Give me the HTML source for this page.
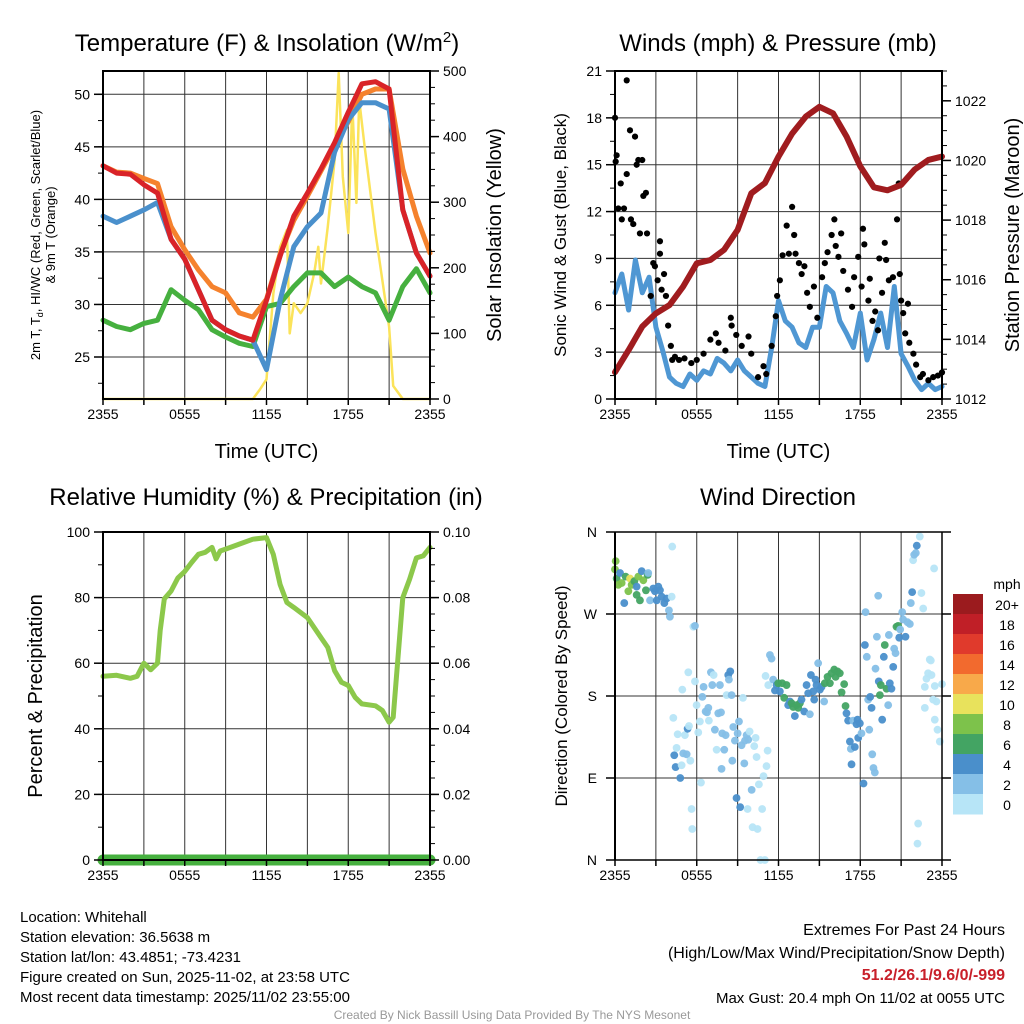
<!DOCTYPE html>
<html><head><meta charset="utf-8"><style>
body{margin:0;background:#fff}
svg{display:block;font-family:"Liberation Sans",Arial,sans-serif}
</style></head><body>
<svg id="c" width="1024" height="1024" viewBox="0 0 1024 1024" xmlns="http://www.w3.org/2000/svg"></svg>
<script>
// ---------- Data ----------
const xTickLabels = ['2355','0555','1155','1755','2355'];
const xTickHours = [0,6,12,18,24];
const hours = [0,1,2,3,4,5,6,7,8,9,10,11,12,13,14,15,16,17,18,19,20,21,22,23,24];
const tempRed = [43.2,42.5,42.4,41.4,40.6,36.2,34.3,31.4,28.5,27.6,27.0,26.6,30.4,34.6,38.4,40.6,42.9,45.4,48.3,51.0,51.2,50.5,39.0,34.9,32.7];
const temp9m = [43.2,42.6,42.5,42.0,41.5,37.4,35.2,33.3,31.7,31.1,29.2,28.8,30.5,34.8,38.0,40.3,42.7,45.1,47.4,50.0,50.5,50.5,42.9,38.4,34.9];
const tempHI = [38.4,37.8,38.4,39.0,39.7,36.2,34.3,31.4,28.5,27.6,27.0,26.6,23.8,30.4,35.5,37.4,38.7,44.5,47.6,49.2,49.2,48.6,39.0,34.9,32.7];
const dewpt = [28.5,27.9,27.6,28.2,28.5,31.4,30.4,29.5,27.6,26.9,26.3,26.0,29.8,30.1,31.7,33.0,33.0,31.7,32.6,31.7,31.1,28.5,31.7,33.4,31.1];
const solarHours = [0,11,11.5,12,12.5,13,13.5,13.7,14,14.5,15,15.5,15.8,16,16.5,17,17.3,17.6,18,18.3,18.6,18.8,19.2,20,21,21.3,22,24];
const solarVals = [0,0,14,30,160,232,258,100,146,131,146,192,232,176,263,364,497,339,253,451,299,456,385,253,110,20,0,0];
const halfHours = [0,0.5,1,1.5,2,2.5,3,3.5,4,4.5,5,5.5,6,6.5,7,7.5,8,8.5,9,9.5,10,10.5,11,11.5,12,12.5,13,13.5,14,14.5,15,15.5,16,16.5,17,17.5,18,18.5,19,19.5,20,20.5,21,21.5,22,22.5,23,23.5,24];
const windSpeed = [6.8,8.0,5.7,8.9,6.8,7.8,4.6,3.1,1.4,1.0,0.8,1.6,1.2,1.8,1.6,2.6,2.3,1.8,2.5,1.8,1.4,1.0,0.8,3.3,6.3,5.0,4.6,3.6,3.3,4.6,4.6,7.2,6.8,5.0,4.2,3.3,5.5,2.5,3.8,5.5,3.3,7.2,2.9,2.1,1.2,0.6,1.0,0.6,0.8];
const pressure = [1012.9,1013.64,1014.43,1014.87,1015.15,1015.77,1016.55,1016.66,1017.0,1017.67,1018.9,1019.24,1020.13,1020.9,1021.47,1021.8,1021.58,1020.8,1019.8,1019.1,1019.0,1019.18,1019.7,1020.02,1020.13];
const gustHours = [0,0.05,0.12,0.24,0.42,0.5,0.66,0.86,0.86,1.1,1.17,1.34,1.47,1.59,1.71,1.83,2.0,2.08,2.27,2.35,2.62,2.81,2.93,3.13,3.3,3.3,3.42,3.6,3.74,3.9,4.1,4.2,4.4,4.7,5.1,5.6,6.0,6.5,7.0,7.4,7.6,8.1,8.5,8.56,8.9,9.3,9.8,10.0,10.5,10.9,11.1,11.5,11.8,11.9,12.1,12.3,12.6,12.76,13.0,13.15,13.25,13.5,13.7,13.9,14.1,14.3,14.6,14.85,15.2,15.4,15.6,15.9,16.1,16.2,16.4,16.6,16.75,17.1,17.4,17.55,17.85,18.1,18.2,18.3,18.6,18.7,18.9,19.1,19.3,19.4,19.6,19.8,19.9,20.1,20.4,20.7,20.83,20.9,21.0,21.15,21.3,21.5,21.6,21.9,22.1,22.4,22.6,23.0,23.35,23.7,24];
const gustVals = [18.0,15.2,15.6,12.2,13.8,11.5,12.2,20.4,14.4,17.2,11.5,11.2,16.8,15.0,15.3,10.6,15.3,13.0,13.2,10.6,6.6,8.7,8.5,7.6,10.1,9.3,7.0,8.0,6.6,4.7,3.4,2.5,2.7,2.5,2.6,2.3,2.5,2.9,3.8,4.2,3.6,3.1,5.2,4.7,4.1,3.4,4.0,2.9,1.4,2.1,1.6,3.4,5.3,6.6,7.6,9.2,11.1,9.3,12.3,10.5,9.3,8.7,8.0,8.5,6.8,5.9,7.2,5.2,7.8,8.7,9.4,10.5,11.5,9.8,9.1,10.6,8.2,7.0,5.9,7.8,9.1,7.2,10.9,9.9,6.3,7.7,5.0,5.6,4.4,9.0,6.8,10.0,8.9,7.6,7.8,11.5,13.8,8.0,6.3,5.5,4.2,6.1,3.6,2.9,2.2,1.4,1.6,1.2,1.4,1.5,1.7];
const rhHours = [0,1,2,2.5,3,3.5,4,4.2,4.5,5,5.5,6,6.5,7,7.5,8,8.3,8.6,9,10,11,12,12.5,13,13.5,14,15,16,16.5,17,17.5,18,18.5,19,20,20.5,21,21.3,22,22.5,23,23.5,24];
const rhVals = [56,56.3,55.4,56,60,58,60,70,79.6,82,86,88,90.7,93.2,93.8,95.3,91.8,94.2,94.8,96.3,97.8,98.3,93.2,84,78.5,77,73.9,67.8,64.8,57.7,54.2,53.2,49.6,47.6,47,45.6,42,43.5,80,85.6,92.1,92.7,95.3];
const precipHours = [0,24];
const precipVals = [0,0];
const dirHours = [0.05,0,0.12,0.24,0.37,0.49,0.68,0.78,0.98,1.1,1.22,1.42,1.59,1.59,1.71,1.83,1.96,2.08,2.27,2.4,2.44,2.57,2.81,2.93,3.06,3.18,3.3,3.42,3.62,3.79,3.96,4.03,4.16,4.2,
5.75,5.87,4.28,4.35,4.45,4.52,4.6,4.79,4.89,4.94,5.01,5.13,5.26,5.33,5.38,5.43,5.53,5.62,5.67,5.87,5.99,6.11,6.23,6.31,6.41,6.5,6.65,6.75,6.85,6.89,7.04,7.14,7.24,7.33,7.46,7.58,7.7,7.78,7.82,7.87,8.02,8.12,8.19,8.31,8.36,8.46,8.56,8.61,8.68,8.8,8.92,9,9.1,9.19,9.29,9.39,9.49,9.54,9.66,9.73,9.78,9.88,10.03,10.1,10.22,10.32,10.39,10.46,10.56,10.68,10.8,10.9,11,11.12,11.2,11.05,11.25,11.37,11.49,11.61,11.74,
11.86,11.98,12.1,12.27,12.42,12.59,12.71,12.84,12.96,13.08,13.2,13.33,13.45,13.57,13.69,13.89,14.06,14.18,14.3,14.38,14.55,14.62,14.72,14.79,14.91,15.04,15.16,15.35,15.4,15.6,15.77,15.89,16.09,16.19,16.33,16.5,16.63,16.82,16.92,16.99,17.11,17.24,17.31,17.36,17.48,17.6,17.73,17.8,17.85,17.97,18.09,18.24,18.34,18.39,18.48,18.58,18.66,18.73,18.83,18.88,18.97,19.07,19.12,19.22,19.32,19.36,19.44,19.51,19.61,19.73,19.8,19.93,20.05,20.1,20.17,20.29,20.42,20.49,20.59,20.66,20.78,20.86,20.93,21.08,21.15,21.32,21.47,21.64,21.71,21.81,21.88,21.96,22.08,22.15,22.37,22.49,22.62,22.25,22.2,22.74,22.86,22.98,23.1,23.23,23.35,23.47,23.42,23.59,23.47,23.67,23.84,24,22.74,23.18];
const dirDeg = [328,319,309,302,315,304,282,311,295,309,302,306,300,291,311,285,317,307,296,313,315,285,298,295,285,300,296,289,282,287,274,267,289,344,
256,257,156,115,102,123,138,90,104,187,117,137,116,144,206,147,109,56,34,196,170,140,152,85,179,190,163,162,167,153,206,192,203,143,121,161,192,162,100,139,121,137,181,203,198,207,181,109,146,131,68,139,152,58,126,178,106,131,137,56,132,141,77,36,125,134,113,34,83,0,56,92,0,103,120,202,192,225,221,198,186,
192,194,185,194,178,192,170,174,172,168,158,170,167,172,176,163,192,183,160,203,185,176,198,192,216,187,190,174,194,201,194,205,209,201,207,205,184,193,169,161,153,130,122,105,153,124,149,154,134,150,139,84,236,272,223,176,143,179,167,116,101,96,210,245,290,196,181,192,154,223,236,188,170,247,194,188,212,232,227,256,257,244,253,272,264,245,261,259,282,294,329,335,337,345,355,293,276,40,18,167,199,205,220,203,176,191,320,174,154,143,130,193,190,219];
const dirSpeed = [9,9,7,9,5,9,5,7,9,11,9,7,5,7,9,7,5,9,7,7,3,3,5,5,5,5,5,5,5,5,3,3,1,1,
1,3,1,5,5,1,1,5,1,1,3,1,3,5,1,1,1,1,1,1,1,1,1,1,3,3,3,3,3,1,3,3,1,3,1,3,3,3,3,3,3,3,1,5,3,5,3,3,3,3,5,3,3,5,3,1,3,3,3,1,3,1,3,1,1,1,1,1,1,1,1,1,1,1,1,1,1,3,3,3,5,
5,7,5,7,7,7,5,5,7,7,5,7,7,7,5,5,5,5,3,5,5,5,5,5,3,5,5,3,7,7,7,7,7,7,7,7,7,7,7,5,5,5,3,5,3,5,5,5,5,5,3,5,5,3,3,3,3,5,5,3,3,3,3,3,3,5,7,7,5,5,7,7,3,3,5,5,5,3,3,7,7,5,3,3,3,5,3,3,3,5,1,3,3,5,1,1,1,1,1,1,1,1,1,1,1,1,1,1,1,1,1,1,1,1];
const legendLabels = ['20+','18','16','14','12','10','8','6','4','2','0'];
const legendColors = ['#9b1b1e','#c01f27','#e03a2c','#f26a2e','#f8a94a','#e8e25c','#7dc24b','#43a463','#4a8fcb','#85bfe7','#b7e5f7'];

// ---------- Helpers ----------
const NS='http://www.w3.org/2000/svg';
const svg=document.getElementById('c');
function el(tag,attrs,parent){const e=document.createElementNS(NS,tag);for(const k in attrs)e.setAttribute(k,attrs[k]);(parent||svg).appendChild(e);return e;}
function txt(s,x,y,size,anchor,parent,extra){const t=el('text',Object.assign({x:x,y:y,'font-size':size,'text-anchor':anchor||'middle',fill:'#000'},extra||{}),parent);t.textContent=s;return t;}
function lin(d0,d1,r0,r1){return v=>r0+(v-d0)*(r1-r0)/(d1-d0);}

function panel(name,L,R,T,B){
  const g=el('g',{});
  
  
  return {g,L,R,T,B,x:lin(0,24,L,R)};
}
function grid(p,yVals,yFn){
  const gg=el('g',{stroke:'#333','stroke-width':1},p.g);
  
  
  for(let h=3;h<24;h+=3){el('line',{x1:p.x(h),x2:p.x(h),y1:p.T,y2:p.B},gg);}
  yVals.forEach(v=>{el('line',{x1:p.L,x2:p.R,y1:yFn(v),y2:yFn(v)},gg);});
}
function frame(p){
  const f=el('rect',{x:p.L,y:p.T,width:p.R-p.L,height:p.B-p.T,fill:'none',stroke:'#000','stroke-width':2},p.g);
  
  
}
function xAxis(p,withTitle){
  const ax=el('g',{},p.g);
  
  
  for(let h=0;h<=24;h+=3){el('line',{x1:p.x(h),x2:p.x(h),y1:p.B,y2:p.B+6,stroke:'#000','stroke-width':1.5},ax);}
  xTickHours.forEach((h,i)=>{const t=txt(xTickLabels[i],p.x(h),p.B+20,14,'middle',ax);
    
    });
  if(withTitle){const t=txt('Time (UTC)',(p.L+p.R)/2,p.B+59,20,'middle',ax);
    
    }
}
function yAxis(p,side,ticks,labels,fn,minor,name){
  const ax=el('g',{},p.g);
  
  
  const X=side==='left'?p.L:p.R, dir=side==='left'?-1:1;
  (minor||[]).forEach(v=>{const y=fn(v);if(y<p.T-0.5||y>p.B+0.5)return;el('line',{x1:X,x2:X+dir*5,y1:y,y2:y,stroke:'#000','stroke-width':1},ax);});
  ticks.forEach((v,i)=>{el('line',{x1:X,x2:X+dir*9,y1:fn(v),y2:fn(v),stroke:'#000','stroke-width':1.5},ax);
    const t=txt(labels[i],X+dir*13,fn(v)+5,14,side==='left'?'end':'start',ax);
    
    });
}
function poly(p,xs,ys,xf,yf,color,w,name){
  const pts=xs.map((h,i)=>xf(h).toFixed(1)+','+yf(ys[i]).toFixed(1)).join(' ');
  const l=el('polyline',{points:pts,fill:'none',stroke:color,'stroke-width':w,'stroke-linejoin':'round','stroke-linecap':'round'},p.g);
  
  
  return l;
}
function range(a,b,s){const r=[];for(let v=a;v<=b+1e-9;v+=s)r.push(+v.toFixed(4));return r;}
function title(s,x,y,name){const t=txt(s,x,y,24,'middle');return t;}
function rotLabel(s,x,y,size,name){const t=txt(s,0,0,size,'middle',svg,{transform:`translate(${x},${y}) rotate(-90)`});return t;}

// ---------- Panel 1: temperature ----------
{
  const p=panel('temperature-panel',103,430,71,399);
  const yT=lin(25,50,357,94.3), yS=lin(0,500,399,71);
  grid(p,[25,30,35,40,45,50],yT);
  poly(p,solarHours,solarVals,p.x,yS,'#fbe35a',2.5,'solar-insolation-line');
  poly(p,hours,dewpt,p.x,yT,'#46b03f',5,'dewpoint-line');
  poly(p,hours,temp9m,p.x,yT,'#f5822d',5,'temp-9m-line');
  poly(p,hours,tempHI,p.x,yT,'#4a90cc',5,'heat-index-windchill-line');
  poly(p,hours,tempRed,p.x,yT,'#d92328',5,'temp-2m-line');
  frame(p);
  yAxis(p,'left',[25,30,35,40,45,50],['25','30','35','40','45','50'],yT,range(22.5,52.5,2.5),'y-axis-temperature');
  yAxis(p,'right',[0,100,200,300,400,500],['0','100','200','300','400','500'],yS,range(0,500,25),'y-axis-solar');
  xAxis(p,true);
  const t=el('text',{x:0,y:0,'font-size':24,'text-anchor':'middle',fill:'#000'});
  
  
  t.innerHTML='Temperature (F) &amp; Insolation (W/m<tspan dy="-9" font-size="15">2</tspan><tspan dy="9">)</tspan>';
  t.setAttribute('x',267);t.setAttribute('y',51);
  const yl=el('text',{transform:'translate(40,235) rotate(-90)','font-size':13,'text-anchor':'middle',fill:'#000'});
  
  
  yl.innerHTML='2m T, T<tspan dy="3" font-size="9">d</tspan><tspan dy="-3">, HI/WC (Red, Green, Scarlet/Blue)</tspan>';
  const yl2=txt('& 9m T (Orange)',0,0,13,'middle',svg,{transform:'translate(55,235) rotate(-90)'});
  
  
  rotLabel('Solar Insolation (Yellow)',501,235,20,'y-axis-title-solar');
}

// ---------- Panel 2: winds & pressure ----------
{
  const p=panel('wind-pressure-panel',615,942,71,399);
  const yW=lin(0,21,399,71), yP=lin(1012,1023,399,71);
  grid(p,[3,6,9,12,15,18],yW);
  poly(p,halfHours,windSpeed,p.x,yW,'#4f97d3',5,'sonic-wind-line');
  const gg=el('g',{fill:'#000'},p.g);
  
  
  gustHours.forEach((h,i)=>{const c=el('circle',{cx:p.x(h),cy:yW(gustVals[i]),r:3.1},gg);
    
    });
  poly(p,hours,pressure,p.x,yP,'#a01c1f',6,'pressure-line');
  frame(p);
  yAxis(p,'left',[0,3,6,9,12,15,18,21],['0','3','6','9','12','15','18','21'],yW,range(0,21,1.5),'y-axis-wind');
  yAxis(p,'right',[1012,1014,1016,1018,1020,1022],['1012','1014','1016','1018','1020','1022'],yP,range(1012,1023,0.5),'y-axis-pressure');
  xAxis(p,true);
  title('Winds (mph) & Pressure (mb)',778,51,'winds-title');
  rotLabel('Sonic Wind & Gust (Blue, Black)',566,235,17,'y-axis-title-wind');
  rotLabel('Station Pressure (Maroon)',1019,235,20,'y-axis-title-pressure');
}

// ---------- Panel 3: RH & precipitation ----------
{
  const p=panel('humidity-panel',103,430,532,860);
  const yR=lin(0,100,860,532), yPr=lin(0,0.1,860,532);
  grid(p,[20,40,60,80],yR);
  poly(p,rhHours,rhVals,p.x,yR,'#8cc84b',5,'relative-humidity-line');
  poly(p,precipHours,precipVals,p.x,yPr,'#46b03f',11,'precipitation-line');
  frame(p);
  yAxis(p,'left',[0,20,40,60,80,100],['0','20','40','60','80','100'],yR,range(0,100,10),'y-axis-humidity');
  yAxis(p,'right',[0,0.02,0.04,0.06,0.08,0.1],['0.00','0.02','0.04','0.06','0.08','0.10'],yPr,range(0,0.1,0.005),'y-axis-precip');
  xAxis(p,false);
  title('Relative Humidity (%) & Precipitation (in)',266,505,'humidity-title');
  rotLabel('Percent & Precipitation',42,696,20,'y-axis-title-humidity');
}

// ---------- Panel 4: wind direction ----------
{
  const p=panel('wind-direction-panel',615,942,532,860);
  const yD=lin(0,360,860,532);
  grid(p,[90,180,270],yD);
  const binColor=s=>legendColors[10-Math.min(10,Math.floor(s/2))];
  const gg=el('g',{},p.g);
  
  
  dirHours.forEach((h,i)=>{const c=el('circle',{cx:p.x(h),cy:yD(dirDeg[i]),r:3.9,fill:binColor(dirSpeed[i]),'fill-opacity':0.95},gg);
    
    });
  const ax=el('g',{stroke:'#000','stroke-width':1.5},p.g);
  [0,360].forEach(v=>el('line',{x1:p.L,x2:p.R,y1:yD(v),y2:yD(v)},ax));
  el('line',{x1:p.L,x2:p.L,y1:p.T,y2:p.B,'stroke-width':2},ax);
  el('line',{x1:p.R,x2:p.R,y1:p.T,y2:p.B},ax);
  const dl=['N','E','S','W','N'];
  [0,90,180,270,360].forEach((v,i)=>{el('line',{x1:p.L-9,x2:p.L,y1:yD(v),y2:yD(v)},ax);el('line',{x1:p.R,x2:p.R+9,y1:yD(v),y2:yD(v)},ax);
    const t=txt(dl[i],p.L-18,yD(v)+5,14,'end');
    
    });
  xAxis(p,false);
  title('Wind Direction',778,505,'wind-direction-title');
  rotLabel('Direction (Colored By Speed)',567,696,17,'y-axis-title-direction');
  const lg=el('g',{});
  
  
  txt('mph',1007,589,14,'middle',lg);
  legendColors.forEach((c,i)=>{const r=el('rect',{x:953,y:594+i*20,width:30,height:20.5,fill:c},lg);
    
    
    const t=txt(legendLabels[i],1007,610+i*20,14,'middle',lg);
    
    });
}

// ---------- Footer text ----------
{
  const info=['Location: Whitehall','Station elevation: 36.5638 m','Station lat/lon: 43.4851; -73.4231','Figure created on Sun, 2025-11-02, at 23:58 UTC','Most recent data timestamp: 2025/11/02 23:55:00'];
  const g=el('g',{});
  
  
  info.forEach((s,i)=>txt(s,20,922+i*20,15,'start',g));
  const r=el('g',{});
  
  
  txt('Extremes For Past 24 Hours',1005,935,16,'end',r);
  txt('(High/Low/Max Wind/Precipitation/Snow Depth)',1005,958,16,'end',r);
  txt('51.2/26.1/9.6/0/-999',1005,980,16,'end',r,{fill:'#c8202a','font-weight':'bold'});
  txt('Max Gust: 20.4 mph On 11/02 at 0055 UTC',1005,1003,15,'end',r);
  const c=txt('Created By Nick Bassill Using Data Provided By The NYS Mesonet',512,1019,12,'middle',svg,{fill:'#999'});
  
  
}
</script>
</body></html>
